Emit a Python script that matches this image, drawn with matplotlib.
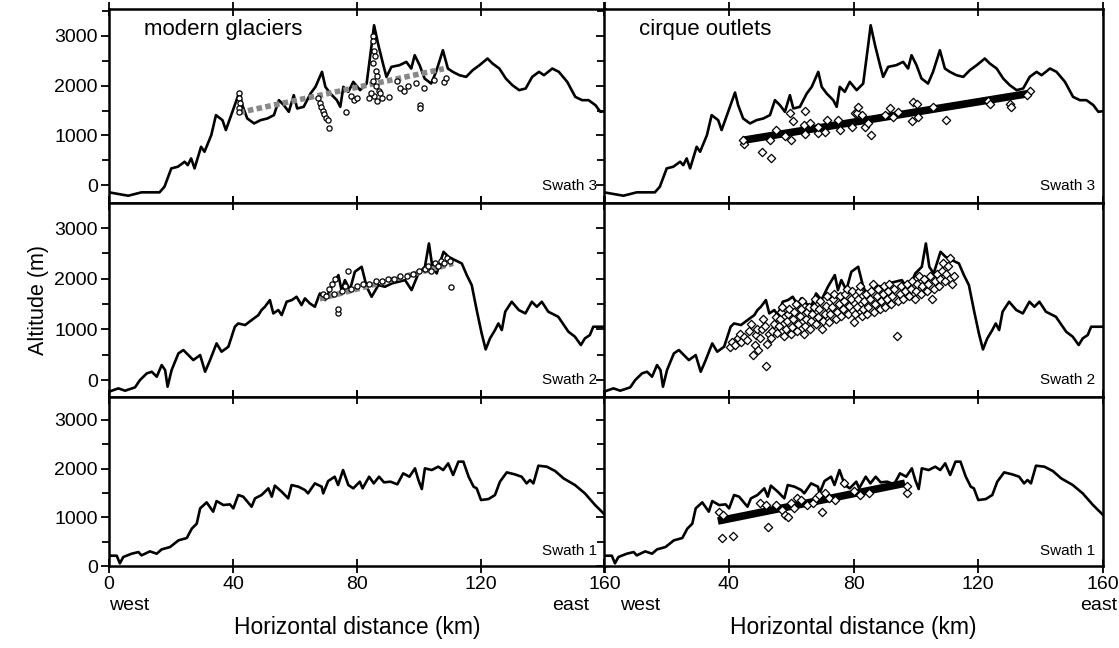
import numpy as np
import matplotlib.pyplot as plt
from matplotlib.ticker import MultipleLocator

plt.rcParams['font.family'] = ['Liberation Sans', 'DejaVu Sans']

# ---- topographic profiles (km, m) ----
s3_km = [0, 6.2, 10.5, 16.3, 17.9, 20.1, 22.2, 24.4, 25.4, 26.5, 27.6, 29.7, 30.8, 33, 34.5, 36.6,
         37.7, 39.8, 42, 43, 44.6, 46.8, 48.9, 51.1, 53.2, 54.8, 56.4, 58, 59.6, 60.7, 62.8, 65,
         66.6, 68.7, 69.8, 71.4, 73.5, 74.6, 75.6, 77.2, 78.8, 81, 83.1, 84.7, 85.5, 86.9, 88.5,
         89.5, 91.1, 93.7, 95.9, 97.5, 98.6, 100.2, 101.8, 103.9, 105.5, 107.7, 109.3, 110.9,
         113, 115.2, 117.3, 119.5, 122.1, 123.7, 125.9, 128, 130.1, 132.3, 134.4, 136.5, 138.7,
         140.3, 143, 145.1, 147.8, 150.4, 152.6, 154.7, 156.9, 158.5, 160]
s3_m = [-147, -215, -147, -147, -33, 335, 368, 469, 400, 536, 335, 770, 670, 1005, 1407, 1306,
        1106, 1474, 1862, 1608, 1340, 1240, 1306, 1340, 1407, 1708, 1608, 1474, 1809, 1541, 1574, 1842,
        1976, 2278, 1976, 1842, 1708, 1574, 1976, 1876, 2077, 1910, 2043, 2814, 3216, 2814, 2412,
        2177, 2378, 2412, 2479, 2345, 2613, 2412, 2144, 2043, 2278, 2713, 2345, 2278,
        2211, 2177, 2311, 2412, 2546, 2446, 2345, 2144, 2010, 1910, 1943, 2177, 2278,
        2211, 2345, 2278, 2077, 1775, 1708, 1708, 1608, 1474, 1487]

s2_km = [0, 3, 5.2, 8.4, 10, 12.2, 13.8, 15.4, 17, 18.1, 18.9, 20.2, 22.4, 24, 25.6, 27.2, 29.4,
         31, 32.6, 34.7, 36.3, 38.5, 40.6, 41.7, 43.9, 46, 48.2, 49.2, 50.3, 51.9, 53, 54.6, 55.7,
         57.3, 59, 60.5, 62.1, 63.2, 64.8, 66.4, 68, 69.7, 71.8, 74, 75, 76.1, 77.7, 79.3, 81.5,
         83.1, 84.7, 86.9, 89, 91.2, 93.3, 95.5, 97.6, 99.8, 101.9, 103.2, 104.3, 105.7, 107.9,
         109.5, 111.6, 113.8, 115.4, 117, 118.6, 120.2, 121.5, 122.9, 124.5, 125.6, 126.7, 127.8,
         129.9, 132.2, 134.3, 136.4, 138, 139.6, 141.7, 144.9, 148.2, 150.3, 152.2, 153.5, 155.1,
         156.2, 160]
s2_m = [-230, -164, -210, -144, 0, 132, 164, 66, 296, 197, -131, 197, 526, 592, 493, 394, 493,
        164, 394, 723, 559, 657, 1052, 1117, 1085, 1183, 1282, 1381, 1446, 1578, 1315, 1381, 1282,
        1545, 1578, 1644, 1479, 1611, 1512, 1446, 1709, 1578, 1841, 2071, 1775, 1972, 1775, 2136, 2235,
        1841, 1643, 1873, 1841, 1906, 1939, 1972, 1775, 2103, 2235, 2695, 2235, 2103, 2531,
        2432, 2366, 2300, 2071, 1873, 1381, 920, 605, 822, 986, 1117, 986, 1348,
        1545, 1381, 1315, 1545, 1446, 1545, 1348, 1249, 953, 855, 691, 822, 888,
        1052, 1052]

s1_km = [0, 2.5, 3.5, 4.6, 7.3, 9.5, 10.5, 13.2, 15.4, 17, 19.7, 22.4, 25.1, 26.7, 28.3, 29.4,
         31.5, 33.6, 34.7, 36.9, 39, 40.1, 41.7, 43.3, 46, 47.1, 49.2, 51.4, 52.5, 53.5, 55.7,
         57.8, 58.9, 61.1, 63.2, 64.2, 66.4, 68.6, 69.1, 70.7, 72.8, 73.9, 75.5, 77.2, 78.8,
         80.9, 81.8, 83.9, 85.4, 87.1, 88.7, 90.8, 93, 94.9, 96.9, 98.7, 99.8, 100.9, 101.9,
         104.1, 106.2, 107.8, 109.4, 111, 112.7, 114.3, 116, 117.6, 118.6, 120, 122.4, 124.5,
         126.1, 128.3, 130.9, 133.1, 134.7, 135.8, 136.9, 138.5, 141.2, 143.9, 146.6, 150.3,
         153.5, 156.8, 160]
s1_m = [212, 212, 55, 185, 253, 287, 219, 301, 253, 342, 390, 527, 575, 767, 869, 1184,
        1307, 1116, 1334, 1252, 1266, 1184, 1458, 1424, 1218, 1389, 1458, 1595, 1424, 1650, 1526,
        1389, 1663, 1629, 1561, 1492, 1697, 1629, 1492, 1745, 1834, 1663, 1971, 1663, 1595,
        1732, 1595, 1834, 1697, 1834, 1718, 1732, 1677, 1903, 1834, 2006, 1766, 1581, 2006,
        1971, 2040, 1971, 2108, 1869, 2143, 2143, 1834, 1629, 1595, 1355, 1375, 1458,
        1732, 1923, 1882, 1834, 1697, 1766, 1697, 2060, 2040, 1951, 1800, 1663,
        1492, 1252, 1050]

# ---- modern glaciers (circles) ----
g3_km = [42, 42, 42.2, 41.8, 42, 67.5, 68, 68.5, 69, 69.5, 70, 71, 70.5, 76.4, 78, 79, 80,
         85, 85.2, 85.5, 85.8, 85, 86, 86.5, 85, 86, 87, 85.5, 86.5, 87.5, 88, 84, 84.5,
         90.4, 94, 95, 96.5, 100.2, 100.2, 99, 101.6, 93, 104.8, 108.2, 108.7]
g3_m = [1850, 1750, 1650, 1550, 1480, 1750, 1650, 1580, 1500, 1420, 1350, 1150, 1300, 1475,
        1800, 1720, 1760, 3000, 2900, 2700, 2600, 2450, 2300, 2200, 2100, 2000, 1900, 1800,
        1700, 1850, 1750, 1750, 1850, 1777, 1945, 1900, 2000, 1610, 1560, 2045, 1945, 2100,
        2110, 2080, 2150]
g3_fit_km = [42, 108]
g3_fit_m = [1460, 2340]

g2_km = [69, 70, 71, 72, 72.5, 73, 74, 74, 75, 76, 77, 78, 80, 82, 84, 86, 88, 90, 92, 94,
         96, 98, 100, 102, 103, 104, 105, 106, 107, 108, 109, 110, 110.3]
g2_m = [1700, 1650, 1800, 1900, 1700, 2000, 1315, 1400, 1750, 1850, 2150, 1800, 1850, 1900,
        1900, 1950, 1950, 2000, 2000, 2050, 2050, 2100, 2150, 2200, 2250, 2150, 2300, 2250,
        2350, 2300, 2400, 2350, 1841]
g2_fit_km = [68, 111]
g2_fit_m = [1600, 2300]

# ---- cirque outlets (diamonds) ----
c3_km = [44.9, 44.7, 50.8, 53.4, 53.2, 55.3, 58, 59.6, 60.5, 60.1, 64.4, 64.1, 64.4, 66, 68.7,
         68.7, 71.4, 70.8, 75.1, 75.6, 80.5, 79.4, 81, 81.5, 82.6, 83.7, 84.7, 85.5, 90, 91.7,
         92.7, 94.3, 98.6, 99.2, 100.2, 100.7, 105.5, 109.8, 123.2, 123.7, 130.1, 130.6, 136.5,
         135.5]
c3_m = [817, 905, 670, 549, 905, 1106, 992, 1440, 1286, 905, 1487, 1206, 1018, 1240, 1039,
        1173, 1306, 1072, 1306, 1106, 1440, 1173, 1440, 1574, 1407, 1173, 1240, 1005, 1407, 1541,
        1374, 1474, 1286, 1675, 1641, 1374, 1574, 1306, 1688, 1641, 1641, 1574, 1889, 1809]
c3_fit_km = [44.5, 136]
c3_fit_m = [900, 1840]

c2_km = [40.5, 41, 42, 42.8, 43.5, 44, 45, 46, 46.5, 47, 47.8, 48.3, 48.6, 49, 49.5, 50, 50.5,
         51, 51.7, 52, 52.4, 52.8, 53.5, 54, 54.4, 55, 55.5, 56, 56.3, 56.8, 57.2, 57.8, 58.2,
         58.6, 59, 59.4, 60, 60.3, 60.7, 61, 61.4, 62, 62.3, 62.8, 63.2, 63.6, 64, 64.4, 64.8,
         65.2, 65.6, 66, 66.4, 66.8, 67.2, 67.6, 68, 68.5, 69, 69.4, 70, 70.3, 70.7, 71.2, 71.6,
         72, 72.5, 73, 73.4, 73.8, 74.3, 74.7, 75.2, 75.6, 76, 76.5, 77, 77.4, 77.8, 78.3, 78.7,
         79.2, 79.6, 80.1, 80.5, 81, 81.4, 81.8, 82.2, 82.6, 83, 83.5, 84, 84.4, 84.8, 85.3, 85.7,
         86.1, 86.6, 87, 87.5, 88, 88.4, 88.8, 89.3, 89.7, 90.2, 90.6, 91.1, 91.5, 92, 92.5, 93,
         93.8, 94.3, 94.8, 95.2, 96, 96.5, 97, 97.8, 98.3, 98.8, 99.6, 100, 100.5, 101, 101.6,
         102.1, 102.6, 103.5, 104, 104.5, 105.3, 105.8, 106.2, 106.7, 107.3, 107.8, 108.3, 108.8,
         109.3, 109.8, 110.3, 110.8, 111.5, 112.2]
c2_m = [650, 760, 700, 820, 900, 760, 850, 800, 960, 1100, 500, 700, 880, 1000, 600, 820, 1010,
        1200, 1060, 280, 720, 900, 820, 960, 1110, 1250, 920, 1060, 1200, 1350, 1450, 860, 1010,
        1160, 1300, 1400, 900, 1050, 1210, 1350, 1500, 960, 1100, 1260, 1400, 1550, 910, 1060, 1200,
        1350, 1450, 1010, 1160, 1300, 1450, 1600, 1110, 1250, 1400, 1550, 1000, 1160, 1300, 1460, 1650,
        1150, 1310, 1450, 1600, 1700, 1200, 1350, 1510, 1650, 1260, 1400, 1550, 1700, 1800, 1300, 1460,
        1600, 1750, 1150, 1310, 1450, 1600, 1750, 1850, 1260, 1400, 1550, 1700, 1310, 1450, 1600, 1760,
        1900, 1350, 1500, 1650, 1800, 1400, 1560, 1700, 1850, 1450, 1600, 1750, 1900, 1500, 1650, 1800,
        870, 1550, 1700, 1850, 1600, 1750, 1900, 1650, 1800, 1950, 1600, 1750, 1900, 2050, 1700,
        1850, 2000, 1750, 1900, 2050, 1600, 1800, 1950, 2100, 1850, 2000, 2150, 2300,
        1950, 2100, 2250, 2400, 1900, 2050]

c1_km = [37, 38, 37.8, 41.3, 50, 52, 52.6, 55, 57, 58, 59, 60, 61, 62, 63, 65, 67, 68, 69,
         70, 71, 72, 74, 77, 80, 82, 85, 97, 97]
c1_m = [1100, 1050, 575, 616, 1300, 1250, 800, 1250, 1150, 1050, 1000, 1300, 1200, 1400, 1350,
        1250, 1300, 1400, 1450, 1100, 1500, 1400, 1350, 1700, 1550, 1450, 1500, 1500, 1650]
c1_fit_km = [36.5, 96.5]
c1_fit_m = [924, 1700]

profiles = [(s3_km, s3_m), (s2_km, s2_m), (s1_km, s1_m)]
ylims = [(-362, 3543), (-335, 3493), (0, 3470)]
swaths = ['Swath 3', 'Swath 2', 'Swath 1']

fig = plt.figure(figsize=(11.19, 6.48), dpi=100)
cols_l = [(0.0974, 0.4433), (0.5398, 0.4459)]
rows_b = [(0.6867, 0.2994), (0.3873, 0.2994), (0.1265, 0.2608)]

axes = [[None, None] for _ in range(3)]
for r in range(3):
    for c in range(2):
        ax = fig.add_axes([cols_l[c][0], rows_b[r][0], cols_l[c][1], rows_b[r][1]])
        axes[r][c] = ax
        km, m = profiles[r]
        ax.plot(km, m, color='black', lw=1.9, zorder=2)
        ax.set_xlim(0, 160)
        ax.set_ylim(*ylims[r])
        ax.set_xticks([0, 40, 80, 120, 160])
        ax.set_yticks([0, 1000, 2000, 3000])
        ax.yaxis.set_minor_locator(MultipleLocator(500))
        ax.tick_params(axis='both', which='both', direction='out', length=6, width=1.3,
                       labelsize=14, pad=2)
        ax.tick_params(axis='y', which='minor', length=5)
        ax.tick_params(axis='x', top=True, direction='inout', length=10)
        for sp in ax.spines.values():
            sp.set_linewidth(1.8)
        if c == 1:
            ax.set_yticklabels([])
        if r < 2:
            ax.set_xticklabels([])
        ax.text(0.985, 0.05, swaths[r], transform=ax.transAxes, ha='right', va='bottom',
                fontsize=11)

# bottom labels
axes[2][1].set_xticklabels(['', '40', '80', '120', '160'])
for c in range(2):
    ax = axes[2][c]
    ax.set_xlabel('Horizontal distance (km)', fontsize=16.5, labelpad=17)
    ax.text(0.0 if c == 0 else 0.032, -0.235, 'west', transform=ax.transAxes,
            ha='left', va='center', fontsize=14)
    if c == 0:
        ax.text(0.93, -0.235, 'east', transform=ax.transAxes,
                ha='center', va='center', fontsize=14)
    else:
        ax.text(1.028, -0.235, 'east', transform=ax.transAxes,
                ha='right', va='center', fontsize=14)

axes[1][0].set_ylabel('Altitude (m)', fontsize=15.5, labelpad=4)
axes[0][0].text(0.07, 0.95, 'modern glaciers', transform=axes[0][0].transAxes,
                ha='left', va='top', fontsize=16)
axes[0][1].text(0.07, 0.95, 'cirque outlets', transform=axes[0][1].transAxes,
                ha='left', va='top', fontsize=16)

# modern glaciers
circ = dict(marker='o', s=14, facecolors='white', edgecolors='black', linewidths=0.9, zorder=4)
axes[0][0].plot(g3_fit_km, g3_fit_m, color='#888888', lw=4, ls=(0, (1, 0.6)), zorder=3)
axes[0][0].scatter(g3_km, g3_m, **circ)
axes[1][0].plot(g2_fit_km, g2_fit_m, color='#888888', lw=4, ls=(0, (1, 0.6)), zorder=3)
axes[1][0].scatter(g2_km, g2_m, **circ)

# cirque outlets
diam = dict(marker='D', s=18, facecolors='white', edgecolors='black', linewidths=0.9, zorder=4)
axes[0][1].plot(c3_fit_km, c3_fit_m, color='black', lw=5.5, solid_capstyle='butt', zorder=3)
axes[0][1].scatter(c3_km, c3_m, **diam)
axes[1][1].scatter(c2_km, c2_m, **diam)
axes[2][1].plot(c1_fit_km, c1_fit_m, color='black', lw=5.5, solid_capstyle='butt', zorder=3)
axes[2][1].scatter(c1_km, c1_m, **diam)

fig.savefig('out.png', dpi=100)
